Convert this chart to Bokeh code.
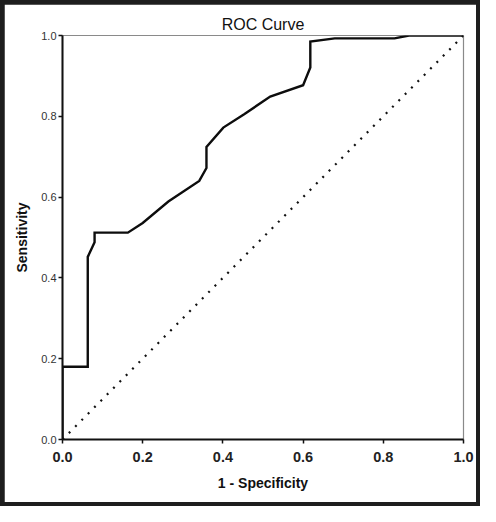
from bokeh.plotting import figure
from bokeh.layouts import column
from bokeh.embed import file_html
from bokeh.resources import INLINE
from bokeh.models import FixedTicker, Range1d

# ROC curve points (1 - specificity, sensitivity)
fpr = [0.0, 0.0, 0.063, 0.063, 0.08, 0.08, 0.163, 0.20, 0.264, 0.341, 0.359, 0.359,
       0.401, 0.453, 0.518, 0.600, 0.618, 0.618, 0.679, 0.828, 0.864, 1.0]
tpr = [0.0, 0.18, 0.18, 0.452, 0.488, 0.512, 0.512, 0.536, 0.589, 0.640, 0.672, 0.724,
       0.772, 0.805, 0.849, 0.877, 0.921, 0.985, 0.993, 0.993, 1.0, 1.0]
ref_x = [0.0, 1.0]
ref_y = [0.0, 1.0]
ticks = [0.0, 0.2, 0.4, 0.6, 0.8, 1.0]

FONT = "Liberation Sans"

p = figure(width=472, height=498, output_backend="svg", toolbar_location=None,
           x_range=Range1d(0, 1), y_range=Range1d(0, 1),
           title="ROC Curve",
           min_border_left=58, min_border_right=13, min_border_top=31, min_border_bottom=63)

p.title.align = "center"
p.title.text_font = FONT
p.title.text_font_size = "16px"
p.title.text_font_style = "normal"
p.title.text_color = "#111111"
p.title.standoff = 6

p.background_fill_color = "white"
p.border_fill_color = "white"
p.outline_line_color = "#8a8a8a"
p.outline_line_width = 1.2
p.grid.visible = False

for ax in (p.xaxis[0], p.yaxis[0]):
    ax.ticker = FixedTicker(ticks=ticks)
    ax.axis_line_color = "#111111"
    ax.axis_line_width = 2
    ax.major_tick_line_color = "#111111"
    ax.major_tick_line_width = 1.5
    ax.major_tick_in = 0
    ax.major_tick_out = 4
    ax.minor_tick_line_color = None
    ax.axis_label_text_font = FONT
    ax.axis_label_text_font_style = "bold"
    ax.axis_label_text_font_size = "14px"
    ax.axis_label_text_color = "#111111"
    ax.major_label_text_font = FONT
    ax.major_label_text_color = "#222222"

p.xaxis.axis_label = "1 - Specificity"
p.xaxis.major_label_text_font_size = "14.5px"
p.xaxis.major_label_text_font_style = "bold"
p.xaxis.major_label_standoff = 8
p.xaxis.axis_label_standoff = 10
p.xaxis.major_label_overrides = {t: f"{t:.1f}" for t in ticks}

p.yaxis.axis_label = "Sensitivity"
p.yaxis.major_label_text_font_size = "11px"
p.yaxis.major_label_text_color = "#333333"
p.yaxis.major_label_standoff = 2
p.yaxis.axis_label_standoff = 8
p.yaxis.major_label_overrides = {t: f"{t:.1f}" for t in ticks}

p.line(ref_x, ref_y, line_color="#111111", line_width=2.2, line_dash="2 7")
p.line(fpr, tpr, line_color="#0d0d0d", line_width=2.4, line_join="miter")

frame = column(p, width=480, height=506,
               styles={"background-color": "#1e1e1e", "padding": "4px", "box-sizing": "border-box"})

open("out.html", "w").write(file_html(frame, INLINE))
